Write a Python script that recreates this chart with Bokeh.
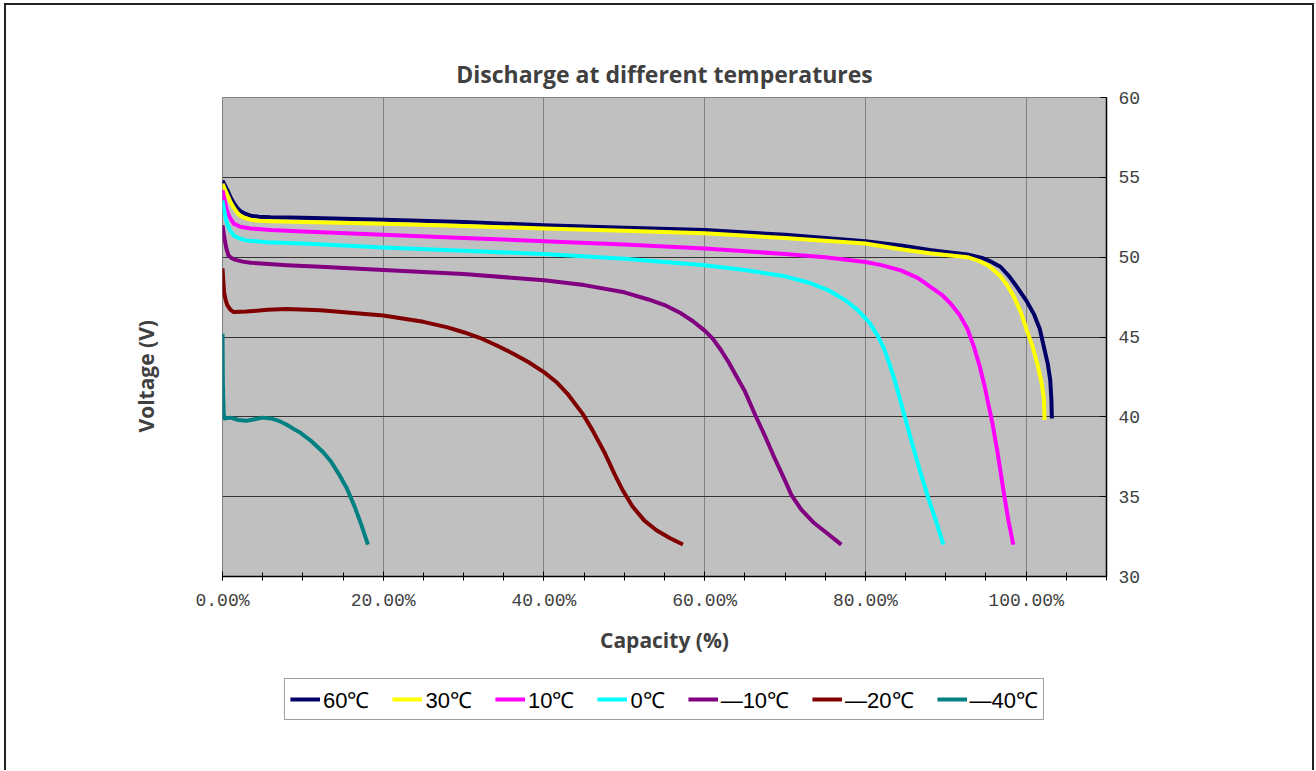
from bokeh.plotting import figure
from bokeh.layouts import column
from bokeh.models import (FixedTicker, Legend, LegendItem, Title,
                          Range1d, CustomJSTickFormatter)
from bokeh.embed import file_html
from bokeh.resources import INLINE

# ---------------- data ----------------
labels = ["60℃", "30℃", "10℃", "0℃", "—10℃", "—20℃", "—40℃"]
colors = ["#000066", "#FFFF00", "#FF00FF", "#00FFFF", "#800080", "#800000", "#008080"]

t60_x = [0, 0.3, 0.6, 1.0, 1.4, 1.8, 2.2, 2.8, 3.5, 4.5, 6, 10, 20, 30, 40, 50, 60, 70, 80, 84.4, 88, 90, 92.7, 94.5, 95.7, 96.8, 97.9, 98.9, 100.0, 101.0, 101.7, 102.2, 102.7, 103.0, 103.15, 103.2]
t60_y = [54.8, 54.5, 54.2, 53.75, 53.4, 53.1, 52.9, 52.72, 52.6, 52.53, 52.5, 52.47, 52.35, 52.2, 52.0, 51.85, 51.7, 51.4, 51.0, 50.73, 50.45, 50.33, 50.17, 49.95, 49.7, 49.4, 48.8, 48.1, 47.3, 46.4, 45.5, 44.4, 43.3, 42.3, 41.0, 39.9]

t30_x = [0, 0.3, 0.6, 1.0, 1.4, 1.8, 2.2, 2.8, 3.5, 4.5, 6, 10, 20, 30, 40, 50, 60, 70, 80, 84.4, 88, 92.7, 94.2, 95.2, 96.0, 96.8, 97.7, 98.5, 99.3, 100.1, 100.8, 101.4, 101.9, 102.2, 102.3]
t30_y = [54.6, 54.25, 53.9, 53.45, 53.1, 52.8, 52.6, 52.45, 52.35, 52.28, 52.25, 52.2, 52.1, 51.95, 51.8, 51.65, 51.5, 51.2, 50.85, 50.5, 50.25, 50.0, 49.75, 49.5, 49.17, 48.8, 48.2, 47.5, 46.6, 45.4, 44.4, 43.3, 42.2, 41.2, 39.8]

t10_x = [0, 0.25, 0.5, 0.9, 1.4, 2.2, 3.5, 6, 10, 20, 30, 40, 50, 60, 70, 75, 80, 82, 84.4, 86.5, 88.5, 89.6, 90.6, 91.7, 92.7, 93.5, 94.2, 94.8, 95.3, 95.8, 96.4, 97.3, 97.8, 98.4]
t10_y = [54.2, 53.6, 53.0, 52.5, 52.1, 51.9, 51.8, 51.7, 51.6, 51.4, 51.2, 51.0, 50.8, 50.55, 50.2, 50.0, 49.7, 49.5, 49.17, 48.7, 48.0, 47.6, 47.1, 46.4, 45.5, 44.4, 43.2, 42.0, 40.8, 39.6, 37.9, 35.0, 33.5, 32.0]

t0_x = [0, 0.25, 0.5, 0.9, 1.4, 2.2, 3, 5.5, 10, 20, 30, 40, 50, 60, 65, 70, 73, 75.5, 77.5, 79, 80.5, 81.5, 82.3, 83, 83.7, 84.3, 84.9, 85.6, 86.4, 87.1, 87.9, 88.9, 89.7]
t0_y = [53.55, 52.8, 52.2, 51.7, 51.36, 51.15, 51.05, 50.94, 50.85, 50.6, 50.4, 50.2, 49.9, 49.5, 49.2, 48.8, 48.4, 47.9, 47.3, 46.7, 45.9, 45.1, 44.3, 43.3, 42.2, 41.1, 40.0, 38.7, 37.3, 36.1, 34.8, 33.3, 32.0]

tm10_x = [0, 0.15, 0.3, 0.5, 0.75, 1.1, 1.5, 2.5, 3.5, 8, 12.2, 20, 30, 40, 45, 50, 53, 55, 57, 58.5, 60, 61, 62, 63, 64, 65, 66.3, 67.5, 68.8, 70, 70.8, 72, 73.5, 75, 77]
tm10_y = [52.0, 51.5, 51.0, 50.5, 50.1, 49.95, 49.85, 49.72, 49.65, 49.5, 49.4, 49.2, 48.95, 48.55, 48.25, 47.8, 47.35, 47.0, 46.5, 46.0, 45.4, 44.9, 44.2, 43.4, 42.5, 41.6, 40.1, 38.8, 37.3, 36.0, 35.1, 34.2, 33.4, 32.8, 32.0]

tm20_x = [0, 0.1, 0.2, 0.4, 0.6, 1.0, 1.4, 3, 5.6, 8, 12.2, 20, 25, 28, 30, 32, 34, 36, 38, 40, 41.5, 43, 44.8, 46, 47.5, 48.8, 49.8, 51, 52.5, 54, 55.7, 57.3]
tm20_y = [49.3, 48.5, 47.8, 47.3, 47.0, 46.7, 46.56, 46.6, 46.7, 46.75, 46.67, 46.35, 45.95, 45.6, 45.3, 44.95, 44.5, 44.0, 43.45, 42.8, 42.2, 41.4, 40.2, 39.2, 37.8, 36.4, 35.4, 34.4, 33.5, 32.9, 32.4, 32.0]

tm40_x = [0, 0.05, 0.15, 0.25, 1.0, 2, 3, 4, 5, 6, 7, 8, 9, 9.7, 11, 12.5, 13.5, 14.5, 15.5, 16.5, 17.3, 18.1]
tm40_y = [45.2, 42.0, 40.2, 39.9, 39.95, 39.8, 39.75, 39.85, 39.95, 39.9, 39.75, 39.5, 39.2, 39.0, 38.5, 37.8, 37.2, 36.4, 35.5, 34.3, 33.2, 32.0]

series_x = [t60_x, t30_x, t10_x, t0_x, tm10_x, tm20_x, tm40_x]
series_y = [t60_y, t30_y, t10_y, t0_y, tm10_y, tm20_y, tm40_y]

x_ticks = [0, 20, 40, 60, 80, 100]
x_minor = [0, 5, 10, 15, 20, 25, 30, 35, 40, 45, 50, 55, 60, 65, 70, 75, 80, 85, 90, 95, 100, 105, 110]
y_ticks = [30, 35, 40, 45, 50, 55, 60]

# ---------------- main chart ----------------
p = figure(frame_width=884, frame_height=479, output_backend="svg", toolbar_location=None,
           x_range=Range1d(0, 110), y_range=Range1d(30, 60),
           x_axis_location="below", y_axis_location="right",
           min_border_left=216, min_border_right=206, min_border_top=92, min_border_bottom=80)

p.background_fill_color = "#C0C0C0"
p.border_fill_color = "white"
p.outline_line_color = "#808080"
p.outline_line_width = 1

p.title.text = "Discharge at different temperatures"
p.title.align = "center"
p.title.text_font = "Open Sans"
p.title.text_font_style = "bold"
p.title.text_font_size = "23px"
p.title.text_color = "#404040"
p.title.standoff = 16

xa = p.xaxis[0]
xa.ticker = FixedTicker(ticks=x_ticks, minor_ticks=x_minor)
xa.formatter = CustomJSTickFormatter(code="return tick.toFixed(2) + '%';")
xa.major_label_text_font = "Liberation Mono"
xa.major_label_text_font_size = "18px"
xa.major_label_text_color = "#404040"
xa.major_label_standoff = 10
xa.axis_line_color = "black"
xa.axis_line_width = 1.5
xa.major_tick_line_color = "black"
xa.minor_tick_line_color = "black"
xa.major_tick_in = 5
xa.major_tick_out = 4
xa.minor_tick_in = 4
xa.minor_tick_out = 4
xa.axis_label = "Capacity (%)"
xa.axis_label_text_font = "Open Sans"
xa.axis_label_text_font_style = "bold"
xa.axis_label_text_font_size = "21px"
xa.axis_label_text_color = "#404040"
xa.axis_label_standoff = 12

ya = p.yaxis[0]
ya.ticker = FixedTicker(ticks=y_ticks)
ya.major_label_text_font = "Liberation Mono"
ya.major_label_text_font_size = "18px"
ya.major_label_text_color = "#404040"
ya.major_label_standoff = 12
ya.axis_line_color = "black"
ya.axis_line_width = 1.5
ya.major_tick_line_color = "black"
ya.major_tick_in = 6
ya.major_tick_out = 0
ya.minor_tick_line_color = None

ylab = Title(text="Voltage (V)", align="left", offset=144,
             text_font="Open Sans", text_font_style="bold", text_font_size="21px",
             text_color="#404040", standoff=126)
p.add_layout(ylab, "left")

p.xgrid.grid_line_color = "#808080"
p.xgrid.grid_line_width = 1
p.xgrid.ticker = FixedTicker(ticks=x_ticks)
p.ygrid.grid_line_color = "#333333"
p.ygrid.grid_line_width = 1
p.ygrid.ticker = FixedTicker(ticks=y_ticks)

for c, xs, ys in zip(colors, series_x, series_y):
    p.line(xs, ys, line_color=c, line_width=4, line_join="round")

# ---------------- legend strip ----------------
lg = figure(width=1306, height=110, output_backend="svg", toolbar_location=None,
            x_axis_type=None, y_axis_type=None, min_border=0,
            x_range=Range1d(0, 1), y_range=Range1d(0, 1))
lg.outline_line_color = None
lg.background_fill_color = "white"
lg.border_fill_color = "white"
lg.grid.visible = False

items = []
for lab, c in zip(labels, colors):
    # proxy lines lie outside the visible range; they only supply the legend swatches
    r = lg.line([5, 6], [5, 6], line_color=c, line_width=4)
    items.append(LegendItem(label=lab, renderers=[r]))

legend = Legend(items=items, orientation="horizontal", location="top_center")
legend.border_line_color = "#404040"
legend.border_line_width = 1
legend.background_fill_color = "white"
legend.background_fill_alpha = 1
legend.glyph_width = 30
legend.glyph_height = 18
legend.label_standoff = 3
legend.spacing = 23
legend.padding = 5
legend.margin = 22
legend.label_text_font = "Liberation Sans"
legend.label_text_font_size = "22px"
legend.label_text_color = "black"
lg.add_layout(legend, "center")

layout = column(p, lg, spacing=0,
                styles={"margin-left": "4px", "margin-top": "3px", "padding-bottom": "4px",
                        "border-left": "2px solid #222222", "border-top": "2px solid #222222",
                        "border-right": "2px solid #222222"})

open("out.html", "w").write(file_html(layout, INLINE))
